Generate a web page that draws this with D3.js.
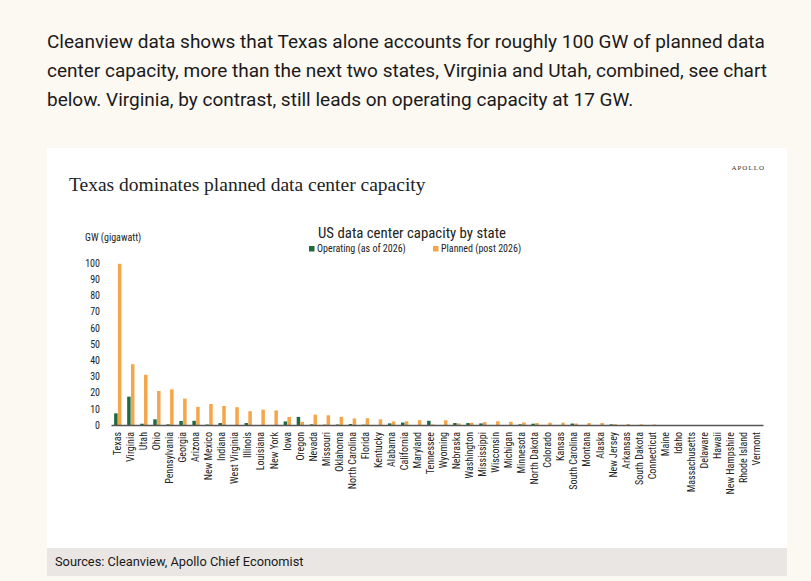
<!DOCTYPE html>
<html>
<head>
<meta charset="utf-8">
<script src="https://cdn.jsdelivr.net/npm/d3@7"></script>
<style>
  html, body { margin: 0; padding: 0; background: #fcf8f2; }
  svg { display: block; }
  .para { font-family: Roboto, "Liberation Sans", sans-serif; font-size: 19px; fill: #1a1a1a; }
  .narrow { font-family: "Liberation Sans Narrow", "Roboto Condensed", "Open Sans", sans-serif; fill: #222; }
</style>
</head>
<body>
<div id="chart"></div>
<script>
// state order as in the chart
let states = ['Texas', 'Virginia', 'Utah', 'Ohio', 'Pennsylvania', 'Georgia', 'Arizona', 'New Mexico',
  'Indiana', 'West Virginia', 'Illinois', 'Louisiana', 'New York', 'Iowa', 'Oregon', 'Nevada',
  'Missouri', 'Oklahoma', 'North Carolina', 'Florida', 'Kentucky', 'Alabama', 'California', 'Maryland',
  'Tennessee', 'Wyoming', 'Nebraska', 'Washington', 'Mississippi', 'Wisconsin', 'Michigan', 'Minnesota',
  'North Dakota', 'Colorado', 'Kansas', 'South Carolina', 'Montana', 'Alaska', 'New Jersey', 'Arkansas',
  'South Dakota', 'Connecticut', 'Maine', 'Idaho', 'Massachusetts', 'Delaware', 'Hawaii',
  'New Hampshire', 'Rhode Island', 'Vermont']

// GW, operating as of 2026
let operating = [7.2, 17.5, 0.8, 3.5, 0.4, 2.5, 2.6, 0.3,
  1.2, 0, 1.2, 0, 0, 2.2, 5, 0.4,
  0.2, 0.3, 0.6, 0.2, 0, 1, 1.5, 0,
  2.6, 0, 1.2, 1.2, 1, 0, 0, 0.4,
  0.8, 0, 0, 0.9, 0, 0, 0.4, 0,
  0, 0, 0, 0, 0, 0, 0,
  0, 0, 0]

// GW, planned post 2026
let planned = [99.5, 37.5, 31, 21, 22, 16.3, 11.2, 13,
  11.8, 11, 8.5, 9.5, 9, 5, 2, 6.4,
  6, 5, 4, 4.2, 3.5, 2.2, 2.3, 3,
  0.3, 2.9, 1, 1.4, 1.8, 2.3, 2, 1.6,
  1.2, 1.4, 1.4, 0.9, 1.2, 1.2, 0.5, 0.6,
  0.4, 0.3, 0, 0, 0, 0, 0,
  0, 0, 0]

let series = ['Operating (as of 2026)', 'Planned (post 2026)']
let colors = ['#1e6b40', '#f5a54a']
let yTicks = [0, 10, 20, 30, 40, 50, 60, 70, 80, 90, 100]

let paragraph = [
  'Cleanview data shows that Texas alone accounts for roughly 100 GW of planned data',
  'center capacity, more than the next two states, Virginia and Utah, combined, see chart',
  'below. Virginia, by contrast, still leads on operating capacity at 17 GW.'
]

let width = 811,
  height = 581

let svg = d3.select('#chart').append('svg')
  .attr('width', width)
  .attr('height', height)

// intro text
svg.append('g').selectAll('text')
  .data(paragraph)
  .enter().append('text')
  .attr('class', 'para')
  .attr('x', 47)
  .attr('y', function (d, i) {
    return 48 + i * 29
  })
  .text(function (d) {
    return d
  })

// card + sources strip
svg.append('rect')
  .attr('x', 47).attr('y', 148)
  .attr('width', 740).attr('height', 400)
  .attr('fill', '#fff')

svg.append('rect')
  .attr('x', 47).attr('y', 548)
  .attr('width', 740).attr('height', 28)
  .attr('fill', '#e9e6e3')

svg.append('text')
  .attr('x', 55).attr('y', 566)
  .attr('font-family', 'Roboto, sans-serif')
  .attr('font-size', 12.8)
  .attr('fill', '#1a1a1a')
  .text('Sources: Cleanview, Apollo Chief Economist')

svg.append('text')
  .attr('x', 765).attr('y', 170)
  .attr('text-anchor', 'end')
  .attr('font-family', '"Liberation Serif", serif')
  .attr('font-size', 7)
  .attr('letter-spacing', 1)
  .attr('fill', '#333')
  .text('APOLLO')

svg.append('text')
  .attr('x', 69).attr('y', 191)
  .attr('font-family', '"Liberation Serif", serif')
  .attr('font-size', 19.5)
  .attr('fill', '#222')
  .text('Texas dominates planned data center capacity')

// plot
let x = d3.scaleBand()
  .domain(states)
  .range([111, 763])

let x1 = d3.scaleBand()
  .domain([0, 1])
  .range([x.bandwidth() * 0.24, x.bandwidth() * 0.8])
  .paddingInner(0.08)

let y = d3.scaleLinear()
  .domain([0, 100])
  .range([425, 263])

svg.append('text')
  .attr('class', 'narrow')
  .attr('x', 318).attr('y', 238)
  .attr('font-size', 15)
  .attr('textLength', 188)
  .attr('lengthAdjust', 'spacingAndGlyphs')
  .attr('fill', '#333')
  .text('US data center capacity by state')

svg.append('text')
  .attr('class', 'narrow')
  .attr('x', 85).attr('y', 241)
  .attr('font-size', 10)
  .text('GW (gigawatt)')

// legend
let legend = svg.append('g').selectAll('g')
  .data(series)
  .enter().append('g')
  .attr('transform', function (d, i) {
    return 'translate(' + (309 + i * 124) + ',246)'
  })

legend.append('rect')
  .attr('width', 5.5).attr('height', 5.5)
  .attr('fill', function (d, i) {
    return colors[i]
  })

legend.append('text')
  .attr('class', 'narrow')
  .attr('x', 8).attr('y', 6)
  .attr('font-size', 10)
  .text(function (d) {
    return d
  })

// y axis labels
let yAxis = svg.append('g')
  .attr('transform', 'translate(100,0)')
  .call(d3.axisLeft(y).tickValues(yTicks).tickSize(0).tickPadding(0))

yAxis.select('.domain').remove()
yAxis.selectAll('text')
  .attr('class', 'narrow')
  .attr('font-size', 10)
  .attr('fill', '#222')

// bars
let groups = svg.append('g').selectAll('.state')
  .data(states)
  .enter().append('g')
  .attr('transform', function (d) {
    return 'translate(' + x(d) + ',0)'
  })

groups.selectAll('rect')
  .data(function (d, i) {
    return [operating[i], planned[i]]
  })
  .enter().append('rect')
  .attr('x', function (d, j) {
    return x1(j)
  })
  .attr('y', function (d) {
    return y(d)
  })
  .attr('width', x1.bandwidth())
  .attr('height', function (d) {
    return y(0) - y(d)
  })
  .attr('fill', function (d, j) {
    return colors[j]
  })

// x axis
let xAxis = svg.append('g')
  .attr('transform', 'translate(0,425)')
  .call(d3.axisBottom(x).tickSize(0).tickPadding(0))

xAxis.select('.domain')
  .attr('stroke', '#555')
  .attr('stroke-width', 1.5)

xAxis.selectAll('text')
  .attr('class', 'narrow')
  .attr('font-size', 10)
  .attr('fill', '#222')
  .attr('text-anchor', 'end')
  .attr('transform', 'rotate(-90)')
  .attr('x', -7)
  .attr('y', 0)
  .attr('dy', '0.35em')
</script>
</body>
</html>
